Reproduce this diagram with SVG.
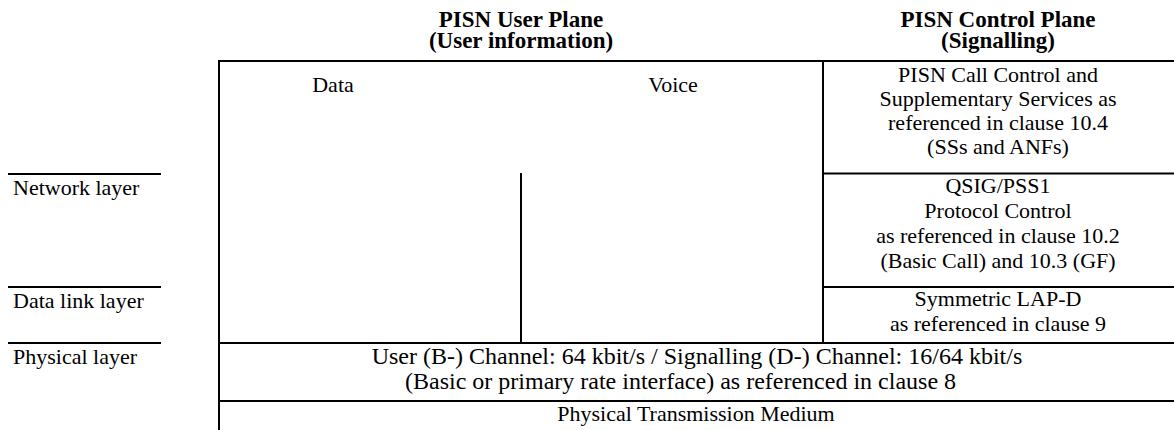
<svg xmlns="http://www.w3.org/2000/svg" width="1174" height="430" viewBox="0 0 1174 430">
<style>
  text { font-family: "Liberation Serif", "Times New Roman", serif; font-size: 22px; fill: #000; }
  .h { font-weight: bold; font-size: 23px; text-anchor: middle; }
  .c { text-anchor: middle; }
  .p { font-size: 24px; }
  .ln { stroke: #000; stroke-width: 2; fill: none; }
</style>
<rect width="1174" height="430" fill="#fff"/>
<g id="headers">
  <text class="h" x="521" y="27">PISN User Plane</text>
  <text class="h" x="521" y="48">(User information)</text>
  <text class="h" x="998" y="27">PISN Control Plane</text>
  <text class="h" x="998" y="48">(Signalling)</text>
</g>
<g id="layer-labels">
  <line class="ln" x1="8" y1="174" x2="161" y2="174"/>
  <text x="13" y="195">Network layer</text>
  <line class="ln" x1="8" y1="287" x2="161" y2="287"/>
  <text x="13" y="308">Data link layer</text>
  <line class="ln" x1="8" y1="343" x2="161" y2="343"/>
  <text x="13" y="364">Physical layer</text>
</g>
<g id="connectors">
  <line class="ln" x1="219" y1="61" x2="1174" y2="61"/>
  <line class="ln" x1="219" y1="60" x2="219" y2="430"/>
  <line class="ln" x1="823" y1="61" x2="823" y2="343"/>
  <line class="ln" x1="823" y1="173.5" x2="1174" y2="173.5"/>
  <line class="ln" x1="823" y1="287" x2="1174" y2="287"/>
  <line class="ln" x1="521" y1="173" x2="521" y2="343"/>
  <line class="ln" x1="219" y1="343" x2="1174" y2="343"/>
  <line class="ln" x1="219" y1="401" x2="1174" y2="401"/>
</g>
<g id="data">
  <text class="c" x="333" y="92">Data</text>
</g>
<g id="voice">
  <text class="c" x="673" y="92">Voice</text>
</g>
<g id="call-control">
  <text class="c" x="998" y="82">PISN Call Control and</text>
  <text class="c" x="998" y="106">Supplementary Services as</text>
  <text class="c" x="998" y="130">referenced in clause 10.4</text>
  <text class="c" x="998" y="154">(SSs and ANFs)</text>
</g>
<g id="protocol-control">
  <text class="c" x="998" y="193">QSIG/PSS1</text>
  <text class="c" x="998" y="218">Protocol Control</text>
  <text class="c" x="998" y="243">as referenced in clause 10.2</text>
  <text class="c" x="998" y="268">(Basic Call) and 10.3 (GF)</text>
</g>
<g id="lapd">
  <text class="c" x="998" y="306">Symmetric LAP-D</text>
  <text class="c" x="998" y="331">as referenced in clause 9</text>
</g>
<g id="physical">
  <text class="c p" x="697" y="364">User (B-) Channel: 64 kbit/s / Signalling (D-) Channel: 16/64 kbit/s</text>
  <text class="p" x="405" y="389">(Basic or primary rate interface) as referenced in clause 8</text>
</g>
<g id="medium">
  <text class="c" x="696" y="421">Physical Transmission Medium</text>
</g>
</svg>
